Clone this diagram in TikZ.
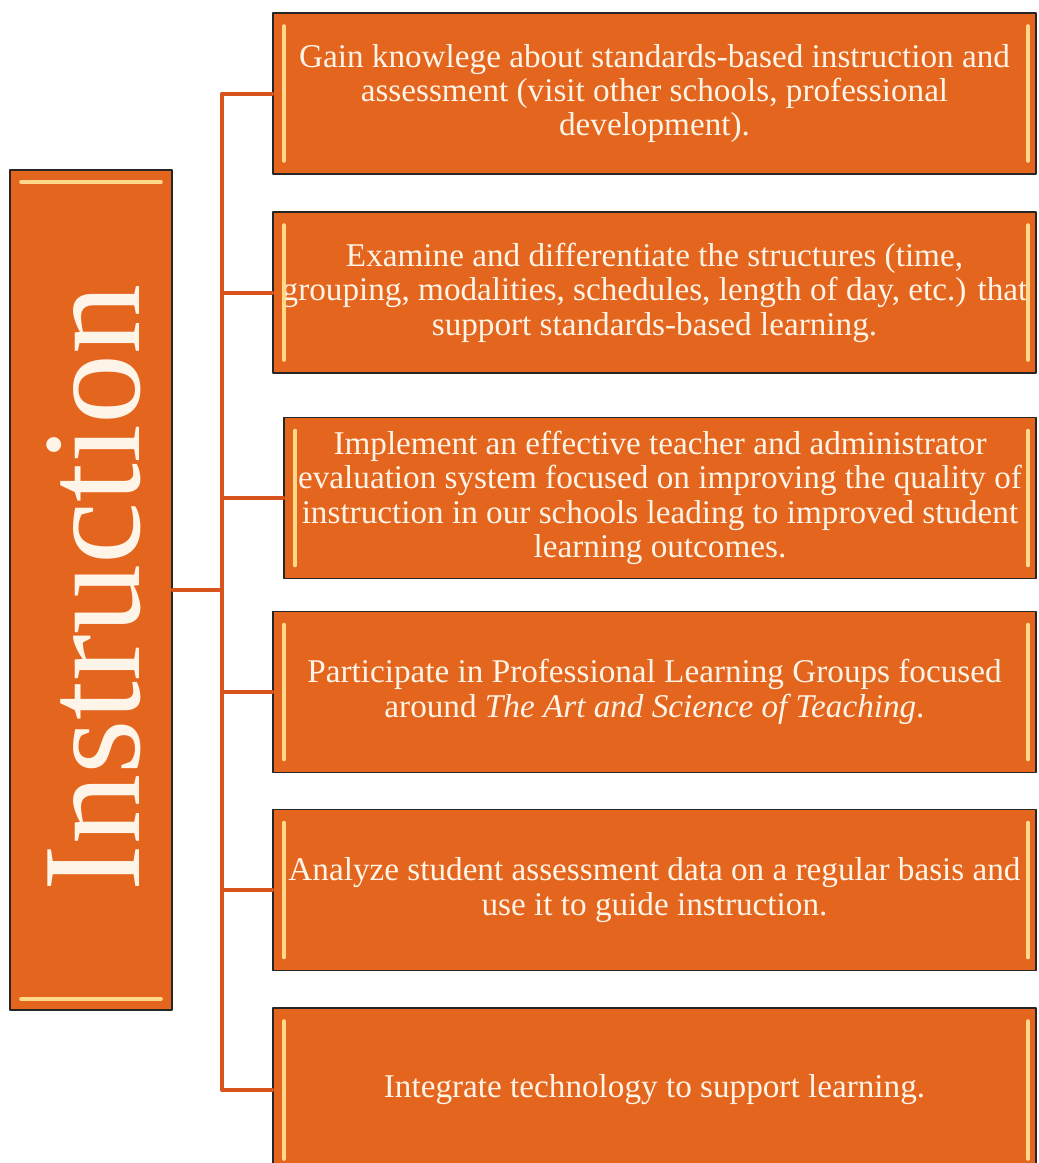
\documentclass[tikz,border=0pt]{standalone}
\usepackage{fontspec}
\setmainfont{Liberation Serif}
\usetikzlibrary{positioning}
\definecolor{boxorange}{HTML}{E4661E}
\definecolor{linkorange}{HTML}{D9541C}
\definecolor{glintyellow}{HTML}{FFD98A}
\definecolor{boxtext}{HTML}{FFF4E8}

\begin{document}
\begin{tikzpicture}[x=0.5pt, y=-0.5pt, line cap=round, line join=round,
    item/.style={draw=black!85, line width=0.8pt, fill=boxorange, text=boxtext,
      minimum width=381.5pt, minimum height=80.5pt, inner sep=0pt, align=center,
      font=\fontsize{16.6}{17.2}\selectfont},
    rootbox/.style={draw=black!85, line width=0.8pt, fill=boxorange,
      minimum width=81pt, minimum height=420pt, inner sep=0pt},
    link/.style={draw=linkorange, line width=2pt},
    glint/.style={draw=glintyellow, line width=2pt}]
  \useasboundingbox (0,0) rectangle (1039,1163);
  \clip (0,0) rectangle (1039,1163);
  %--- Instruction
    \node[rootbox] (root) at (91,590) {};
    \node[rotate=90, text=boxtext, inner sep=0pt, font=\fontsize{70}{70}\selectfont] (title) at (94,588) {Instruction};
    \draw[glint] ([xshift=6pt,yshift=-6.5pt]root.north west) -- ([xshift=-6pt,yshift=-6.5pt]root.north east);
    \draw[glint] ([xshift=6pt,yshift=6pt]root.south west) -- ([xshift=-6pt,yshift=6pt]root.south east);
    \coordinate (fork) at (222,590);
    \draw[link] (root.east) -- (fork);
  %--- Knowledge
    \node[item] (know) at (654.5,93.5) {Gain knowlege about standards-based instruction and\\assessment (visit other schools, professional\\development).};
    \draw[glint] ([xshift=6pt,yshift=-7pt]know.north west) -- ([xshift=6pt,yshift=7pt]know.south west);
    \draw[glint] ([xshift=-4.5pt,yshift=-7pt]know.north east) -- ([xshift=-4.5pt,yshift=7pt]know.south east);
    \draw[link] (fork) |- (know.west);
  %--- Structures
    \node[item] (struct) at (654.5,292.5) {Examine and differentiate the structures (time,\\grouping, modalities, schedules, length of day, etc.) that\\support standards-based learning.};
    \draw[glint] ([xshift=6pt,yshift=-7pt]struct.north west) -- ([xshift=6pt,yshift=7pt]struct.south west);
    \draw[glint] ([xshift=-4.5pt,yshift=-7pt]struct.north east) -- ([xshift=-4.5pt,yshift=7pt]struct.south east);
    \draw[link] (fork) |- (struct.west);
  %--- Evaluation
    \node[item, minimum width=376pt] (eval) at (660,498) {Implement an effective teacher and administrator\\evaluation system focused on improving the quality of\\instruction in our schools leading to improved student\\learning outcomes.};
    \draw[glint] ([xshift=6pt,yshift=-7pt]eval.north west) -- ([xshift=6pt,yshift=7pt]eval.south west);
    \draw[glint] ([xshift=-4.5pt,yshift=-7pt]eval.north east) -- ([xshift=-4.5pt,yshift=7pt]eval.south east);
    \draw[link] (fork) |- (eval.west);
  %--- Learning groups
    \node[item] (groups) at (654.5,692) {Participate in Professional Learning Groups focused\\around \textit{The Art and Science of Teaching}.};
    \draw[glint] ([xshift=6pt,yshift=-7pt]groups.north west) -- ([xshift=6pt,yshift=7pt]groups.south west);
    \draw[glint] ([xshift=-4.5pt,yshift=-7pt]groups.north east) -- ([xshift=-4.5pt,yshift=7pt]groups.south east);
    \draw[link] (fork) |- (groups.west);
  %--- Assessment data
    \node[item] (data) at (654.5,890) {Analyze student assessment data on a regular basis and\\use it to guide instruction.};
    \draw[glint] ([xshift=6pt,yshift=-7pt]data.north west) -- ([xshift=6pt,yshift=7pt]data.south west);
    \draw[glint] ([xshift=-4.5pt,yshift=-7pt]data.north east) -- ([xshift=-4.5pt,yshift=7pt]data.south east);
    \draw[link] (fork) |- (data.west);
  %--- Technology
    \node[item, minimum height=82pt] (tech) at (654.5,1090) {Integrate technology to support learning.};
    \draw[glint] ([xshift=6pt,yshift=-7pt]tech.north west) -- ([xshift=6pt,yshift=7pt]tech.south west);
    \draw[glint] ([xshift=-4.5pt,yshift=-7pt]tech.north east) -- ([xshift=-4.5pt,yshift=7pt]tech.south east);
    \draw[link] (fork) |- (tech.west);
\end{tikzpicture}
\end{document}
